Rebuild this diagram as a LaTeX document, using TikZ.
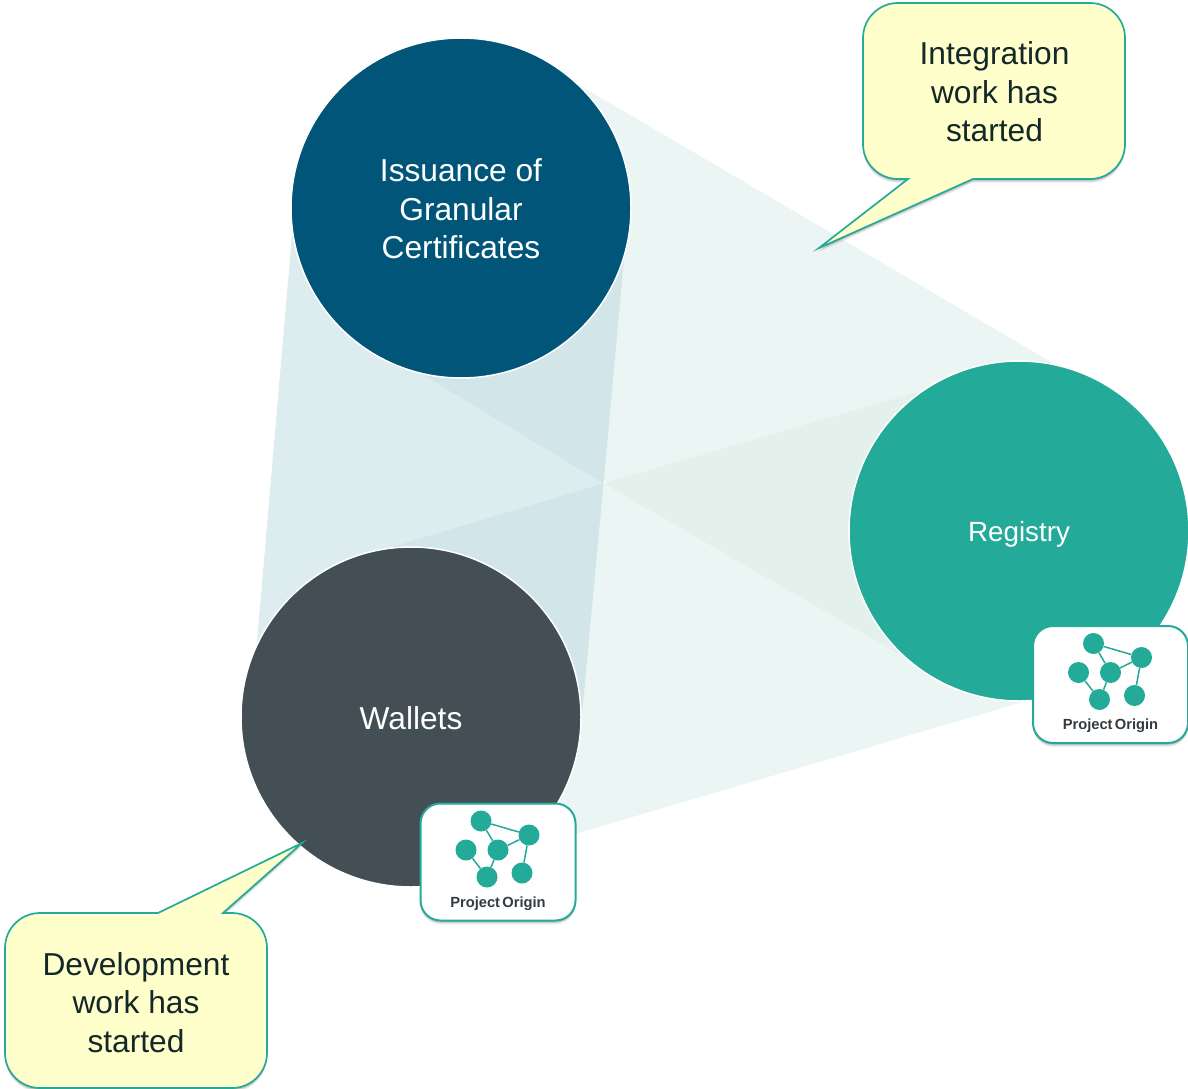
\documentclass[tikz,border=0pt]{standalone}
\usepackage{fontspec}
\setmainfont{Liberation Sans}
\usetikzlibrary{shadows}
\definecolor{teal1}{HTML}{24AA98}
\definecolor{blue1}{HTML}{005578}
\definecolor{slate1}{HTML}{434F55}
\definecolor{beamblue}{HTML}{DDECEF}
\definecolor{beamgreen}{HTML}{EBF5F3}
\definecolor{overblue}{HTML}{D2E6E9}
\definecolor{overgreen}{HTML}{E3F0EC}
\definecolor{noteyellow}{HTML}{FFFFCC}
\definecolor{notetext}{HTML}{14282A}
\definecolor{logotext}{HTML}{333A40}
\tikzset{
  softshadow/.style={
    general shadow={shadow yshift=-4pt,fill=black,fill opacity=.05,draw=none},
    general shadow={shadow yshift=-3pt,fill=black,fill opacity=.08,draw=none},
    general shadow={shadow yshift=-2pt,fill=black,fill opacity=.10,draw=none},
    general shadow={shadow yshift=-1pt,fill=black,fill opacity=.12,draw=none}},
  bigcircle/.style={circle,draw=white,line width=1.5pt,minimum size=340pt,inner sep=0pt},
  circletext/.style={text=white,align=center,inner sep=0pt,font=\fontsize{31.7}{38.5}\selectfont},
  notebody/.style={draw=teal1,line width=1.7pt,fill=noteyellow,softshadow},
  notetxt/.style={align=center,text=notetext,font=\fontsize{31.7}{38.5}\selectfont},
  card/.style={draw=teal1,line width=2pt,fill=white,rounded corners=20pt,
    minimum width=155pt,minimum height=117pt,inner sep=0pt,softshadow},
  dot/.style={circle,fill=teal1,minimum size=21pt,inner sep=0pt},
  link/.style={draw=teal1,line width=1.5pt},
  logo/.pic={
    \node[card] (-box) at (0,0) {};
    \node[dot] (-a) at (-17,-41) {};
    \node[dot] (-b) at (31,-27) {};
    \node[dot] (-c) at (-32,-12) {};
    \node[dot] (-d) at (0,-12) {};
    \node[dot] (-e) at (-11,15) {};
    \node[dot] (-f) at (24,11) {};
    \draw[link] (-a) -- (-b);
    \draw[link] (-a) -- (-d);
    \draw[link] (-d) -- (-b);
    \draw[link] (-c) -- (-e);
    \draw[link] (-d) -- (-e);
    \draw[link] (-b) -- (-f);
    \node[text=logotext,font=\fontsize{14.7}{16}\selectfont\bfseries,inner sep=0pt] (-t) at (0,41.5) {Project\hspace{-.12em} Origin};
  }
}
\begin{document}
\begin{tikzpicture}[x=1pt,y=-1pt]
\useasboundingbox (0,0) rectangle (1188,1089);
% beams
\coordinate (m) at (603.5,483.5);
\fill[beamblue] (295,200) -- (625.7,240) -- (581.5,720) -- (252,700) -- cycle;
\fill[beamgreen] (545,65) -- (1080,379) -- (920,666) -- (390,355) -- cycle;
\fill[beamgreen] (375,552) -- (950,382.5) -- (1060,691) -- (500,856) -- cycle;
\fill[overblue] (m) -- (390,355) -- (625.7,240) -- cycle;
\fill[overblue] (m) -- (375,552) -- (581.5,720) -- cycle;
\fill[overgreen] (m) -- (950,382.5) -- (920,666) -- cycle;
% circles
\node[bigcircle,fill=blue1,label={[circletext,yshift=-.7pt]center:{Issuance of\\Granular\\Certificates}}] (issue) at (461,208) {};
\node[bigcircle,fill=teal1,label={[circletext,font=\fontsize{27.8}{33}\selectfont,yshift=-3pt]center:Registry}] (registry) at (1019,531) {};
\node[bigcircle,fill=slate1,label={[circletext,yshift=-1pt]center:Wallets}] (wallets) at (411,717) {};
% callouts
\path[notebody] (908,179) [rounded corners=35pt] -- (863,179) -- (863,3) -- (1125,3) -- (1125,179) [sharp corners] -- (973,179) -- (819,248) -- cycle;
\node[notetxt] (integration) at (994.5,92) {Integration\\work has\\started};
\path[notebody] (158,913) [rounded corners=35pt] -- (5,913) -- (5,1088) -- (267,1088) -- (267,913) [sharp corners] -- (223,913) -- (302,843) -- cycle;
\node[notetxt] (development) at (136,1002.2) {Development\\work has\\started};
% logo cards
\pic (logoA) at (498,862) {logo};
\pic (logoB) at (1110.5,684.5) {logo};
\end{tikzpicture}
\end{document}
